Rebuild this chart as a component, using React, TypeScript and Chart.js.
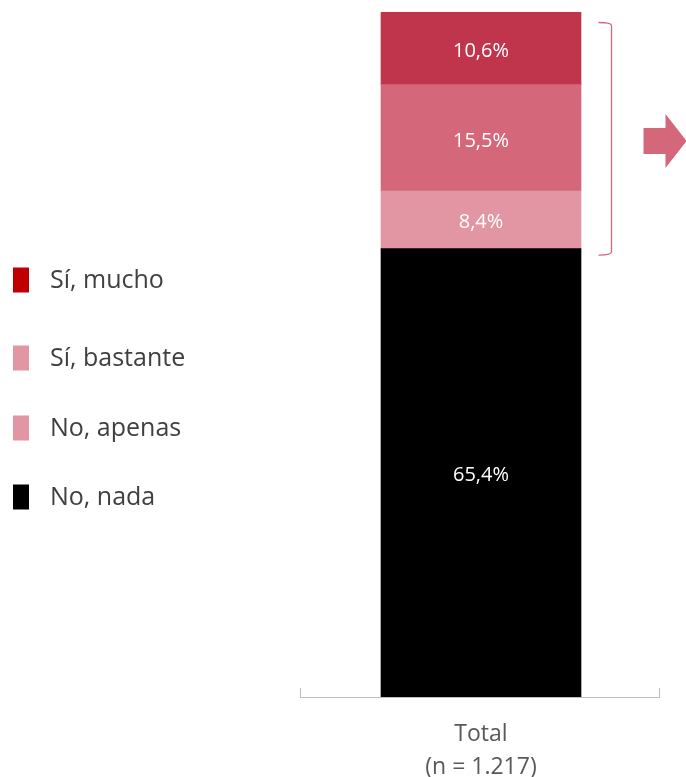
import React, { useEffect, useRef } from "react";
import { Chart, registerables } from "chart.js";

Chart.register(...registerables);

// ---- Data ----
const categories = [["Total", "(n = 1.217)"]];
const seriesNames = ["Sí, mucho", "Sí, bastante", "No, apenas", "No, nada"];
const siMucho = [10.6];
const siBastante = [15.5];
const noApenas = [8.4];
const noNada = [65.4];
const valueLabels = ["10,6%", "15,5%", "8,4%", "65,4%"];

// ---- Styles ----
const barColors = ["#C0354B", "#D5677A", "#E296A3", "#000000"];
const legendColors = ["#C00000", "#E296A3", "#E296A3", "#000000"];
const legendCenters = [280, 358, 428, 497];
const FONT = "'Segoe UI', 'Open Sans', sans-serif";
const ACCENT = "#D5677A";

const overlayPlugin = {
  id: "overlay",
  afterDraw(chart: any) {
    const ctx = chart.ctx;
    const area = chart.chartArea;
    const yScale = chart.scales.y;
    ctx.save();

    // axis line with end ticks
    ctx.strokeStyle = "#BFBFBF";
    ctx.lineWidth = 1;
    ctx.beginPath();
    ctx.moveTo(area.left - 0.5, area.bottom - 9);
    ctx.lineTo(area.left - 0.5, area.bottom + 0.5);
    ctx.lineTo(area.right - 1.5, area.bottom + 0.5);
    ctx.lineTo(area.right - 1.5, area.bottom - 9);
    ctx.stroke();

    // value labels
    ctx.fillStyle = "#FFFFFF";
    ctx.font = `20px ${FONT}`;
    ctx.textAlign = "center";
    ctx.textBaseline = "middle";
    const n = chart.data.datasets.length;
    chart.data.datasets.forEach((ds: any, i: number) => {
      const meta = chart.getDatasetMeta(i);
      meta.data.forEach((el: any) => {
        const cy = (el.y + el.base) / 2 + 3;
        ctx.fillText(ds.valueLabel, el.x, cy);
      });
    });

    // bracket around "Sí" + "No, apenas"
    const bar = chart.getDatasetMeta(n - 1).data[0];
    const bx = bar.x + bar.width / 2 + 30.5;
    const topY = yScale.getPixelForValue(siMucho[0] + siBastante[0] + noApenas[0] + noNada[0]) + 10.5;
    const botY = yScale.getPixelForValue(noNada[0]) + 6.5;
    ctx.strokeStyle = ACCENT;
    ctx.lineWidth = 1.3;
    ctx.beginPath();
    ctx.moveTo(bx - 13, topY);
    ctx.quadraticCurveTo(bx, topY, bx, topY + 3);
    ctx.lineTo(bx, botY - 3);
    ctx.quadraticCurveTo(bx, botY, bx - 13, botY);
    ctx.stroke();

    // arrow
    const ax = bx + 32;
    const ay = 141;
    ctx.fillStyle = ACCENT;
    ctx.beginPath();
    ctx.moveTo(ax, ay - 13);
    ctx.lineTo(ax + 22, ay - 13);
    ctx.lineTo(ax + 22, ay - 27);
    ctx.lineTo(ax + 43, ay);
    ctx.lineTo(ax + 22, ay + 27);
    ctx.lineTo(ax + 22, ay + 13);
    ctx.lineTo(ax, ay + 13);
    ctx.closePath();
    ctx.fill();

    // legend
    ctx.font = `25px ${FONT}`;
    ctx.textAlign = "left";
    ctx.textBaseline = "middle";
    seriesNames.forEach((name, i) => {
      const cy = legendCenters[i];
      ctx.fillStyle = legendColors[i];
      ctx.fillRect(13, cy - 12.5, 16, 25);
      ctx.fillStyle = "#404040";
      ctx.fillText(name, 50, cy + 1);
    });

    ctx.restore();
  },
};

export default function App() {
  const ref = useRef<HTMLCanvasElement | null>(null);

  useEffect(() => {
    if (!ref.current) return;
    const seriesData = [siMucho, siBastante, noApenas, noNada];
    const order = [3, 2, 1, 0];
    const chart = new Chart(ref.current, {
      type: "bar",
      data: {
        labels: categories,
        datasets: order.map((i) => ({
          label: seriesNames[i],
          data: seriesData[i],
          backgroundColor: barColors[i],
          borderWidth: 0,
          barThickness: 200,
          valueLabel: valueLabels[i],
        })) as any,
      },
      options: {
        animation: false,
        responsive: false,
        maintainAspectRatio: false,
        layout: { padding: { left: 301, right: 25, top: 12, bottom: 0 } },
        plugins: {
          legend: { display: false },
          tooltip: { enabled: false },
          title: { display: false },
        },
        scales: {
          x: {
            stacked: true,
            grid: { display: false },
            border: { display: false },
            ticks: {
              color: "#595959",
              font: { size: 23, family: FONT, lineHeight: "33px" as any },
              padding: 13,
            },
            afterFit: (s: any) => {
              s.height = 80;
            },
          },
          y: {
            stacked: true,
            display: false,
            min: 0,
            max: 99.9,
          },
        },
      },
      plugins: [overlayPlugin],
    });
    return () => chart.destroy();
  }, []);

  return (
    <div style={{ position: "absolute", left: 0, top: 0, width: 686, height: 777, background: "#fff" }}>
      <canvas ref={ref} width={686} height={777} style={{ display: "block", width: 686, height: 777 }} />
    </div>
  );
}
